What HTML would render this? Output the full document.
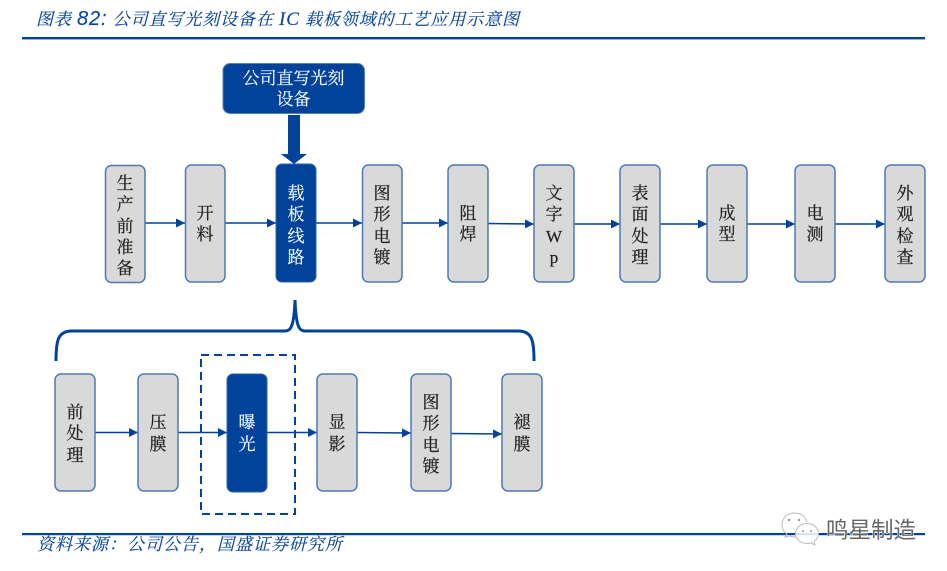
<!DOCTYPE html>
<html><head><meta charset="utf-8"><style>
html,body{margin:0;padding:0;background:#fff}
svg{display:block}
text{font-family:"Liberation Serif","Noto Serif CJK SC",serif}
.v{font-size:17px;fill:#222;text-anchor:middle;stroke:#222;stroke-width:.25}
.w{font-size:17px;fill:#f2f5fa;text-anchor:middle;stroke:#f2f5fa;stroke-width:.2}
.t{font-size:17px;fill:#0b479b;font-style:italic;stroke:#0b479b;stroke-width:.15}
</style></head><body>
<svg width="947" height="571" viewBox="0 0 947 571" xmlns="http://www.w3.org/2000/svg">
<defs><marker id="a" markerWidth="10" markerHeight="10" refX="9" refY="4.500" orient="auto" markerUnits="userSpaceOnUse"><path d="M0 0L9 4.500L0 9Z" fill="#01429a"/></marker></defs>

<text class="t" x="36" y="25" textLength="483" lengthAdjust="spacing">图表 <tspan font-size="20" font-family="Liberation Sans">82:</tspan> 公司直写光刻设备在 <tspan font-size="19">IC</tspan> 载板领域的工艺应用示意图</text>
<rect x="22" y="37" width="903" height="2.400" fill="#01429a"/>
<rect x="22" y="533" width="903" height="2.200" fill="#01429a"/>
<text class="t" x="37" y="550" textLength="305" lengthAdjust="spacing">资料来源：公司公告，国盛证券研究所</text>

<rect x="223" y="63.500" width="141.500" height="50" rx="7" fill="#01429a" stroke="#5b80b8"/>
<text class="w" x="293.500" y="84">公司直写光刻</text>
<text class="w" x="293.500" y="105">设备</text>
<path d="M288 115H300V154H307L294 164L281 154H288Z" fill="#01429a"/>

<g stroke="#01429a" stroke-width="1.500" fill="none" marker-end="url(#a)">
<path d="M145 223H185"/><path d="M225 223H276"/><path d="M316 223H362"/><path d="M402 223H448"/><path d="M488 223.500L534 224"/><path d="M574 224H620"/><path d="M660 224H707"/><path d="M747 224H795"/><path d="M835 224H885"/>
<path d="M95 432.500H138"/><path d="M178 432.500H227"/><path d="M267 432.500H317"/><path d="M357 432.500L411 433"/><path d="M451 433.500L502 434"/>
</g>

<g fill="#d9d9d9" stroke="#4e79b5" stroke-width="1.500">
<rect x="105.500" y="165.500" width="39.500" height="117" rx="6"/>
<rect x="185.500" y="165" width="39.500" height="117" rx="6"/>
<rect x="362.500" y="165" width="39.500" height="117" rx="6"/>
<rect x="448" y="165" width="40" height="117" rx="6"/>
<rect x="534" y="165" width="40" height="117" rx="6"/>
<rect x="620" y="165" width="40" height="117" rx="6"/>
<rect x="707" y="165" width="40" height="117" rx="6"/>
<rect x="795" y="165" width="40" height="117" rx="6"/>
<rect x="885" y="165" width="40" height="117" rx="6"/>
<rect x="55" y="374" width="40" height="117" rx="6"/>
<rect x="138" y="374" width="40" height="117" rx="6"/>
<rect x="317" y="374" width="40" height="117" rx="6"/>
<rect x="411" y="374" width="40" height="117" rx="6"/>
<rect x="502" y="374" width="40" height="117" rx="6"/>
</g>
<rect x="276" y="164" width="40" height="118" rx="6" fill="#01429a" stroke="#2f62a8"/>
<rect x="227" y="374" width="40" height="118" rx="6" fill="#01429a" stroke="#2f62a8"/>

<g>
<text class="v" x="125" y="189">生</text><text class="v" x="125" y="210">产</text><text class="v" x="125" y="232">前</text><text class="v" x="125" y="253">准</text><text class="v" x="125" y="274">备</text>
<text class="v" x="205" y="219">开</text><text class="v" x="205" y="240">料</text>
<text class="w" x="296" y="199">载</text><text class="w" x="296" y="220">板</text><text class="w" x="296" y="242">线</text><text class="w" x="296" y="263">路</text>
<text class="v" x="382" y="199">图</text><text class="v" x="382" y="220">形</text><text class="v" x="382" y="242">电</text><text class="v" x="382" y="263">镀</text>
<text class="v" x="468" y="219">阻</text><text class="v" x="468" y="240">焊</text>
<text class="v" x="554" y="199">文</text><text class="v" x="554" y="220">字</text><text class="v" x="554" y="242">W</text><text class="v" x="554" y="263">p</text>
<text class="v" x="640" y="199">表</text><text class="v" x="640" y="220">面</text><text class="v" x="640" y="242">处</text><text class="v" x="640" y="263">理</text>
<text class="v" x="727" y="219">成</text><text class="v" x="727" y="240">型</text>
<text class="v" x="815" y="219">电</text><text class="v" x="815" y="240">测</text>
<text class="v" x="905" y="199">外</text><text class="v" x="905" y="220">观</text><text class="v" x="905" y="242">检</text><text class="v" x="905" y="263">查</text>
<text class="v" x="75" y="418">前</text><text class="v" x="75" y="439">处</text><text class="v" x="75" y="461">理</text>
<text class="v" x="158" y="428">压</text><text class="v" x="158" y="450">膜</text>
<text class="w" x="247" y="428">曝</text><text class="w" x="247" y="450">光</text>
<text class="v" x="337" y="428">显</text><text class="v" x="337" y="450">影</text>
<text class="v" x="431" y="408">图</text><text class="v" x="431" y="429">形</text><text class="v" x="431" y="451">电</text><text class="v" x="431" y="472">镀</text>
<text class="v" x="522" y="428">褪</text><text class="v" x="522" y="450">膜</text>
</g>

<path d="M56 361C56 340 58 331 72 331H285C291 331 294 326 295 300C296 326 299 331 305 331H518C532 331 534 340 534 361" fill="none" stroke="#01429a" stroke-width="3"/>
<rect x="201" y="355" width="94" height="159" fill="none" stroke="#01429a" stroke-width="2" stroke-dasharray="8 5"/>

<g stroke="#bdbdbd" stroke-width="1">
<path d="M794 513C786 513 782 519 782 525C782 529 784 532 787 534L785 537L790 536C792 537 794 537 796 537" fill="none"/>
<path d="M794 513C801 513 806 517 807 522" fill="none"/>
<ellipse cx="807" cy="533.500" rx="11.500" ry="10" fill="#fff" fill-opacity=".85"/>
<path d="M811 543L815 545L814 541" fill="#fff"/>
</g>
<g fill="#999"><circle cx="789" cy="520" r="1.200"/><circle cx="799" cy="520" r="1.200"/><circle cx="803" cy="531" r="1"/><circle cx="811" cy="531" r="1"/></g>
<text x="826" y="538" font-size="22.500" style='font-family:"Liberation Sans","Noto Sans CJK SC",sans-serif;paint-order:stroke' stroke="#fff" stroke-width="1" fill="#666">鸣星制造</text>
</svg>
</body></html>
